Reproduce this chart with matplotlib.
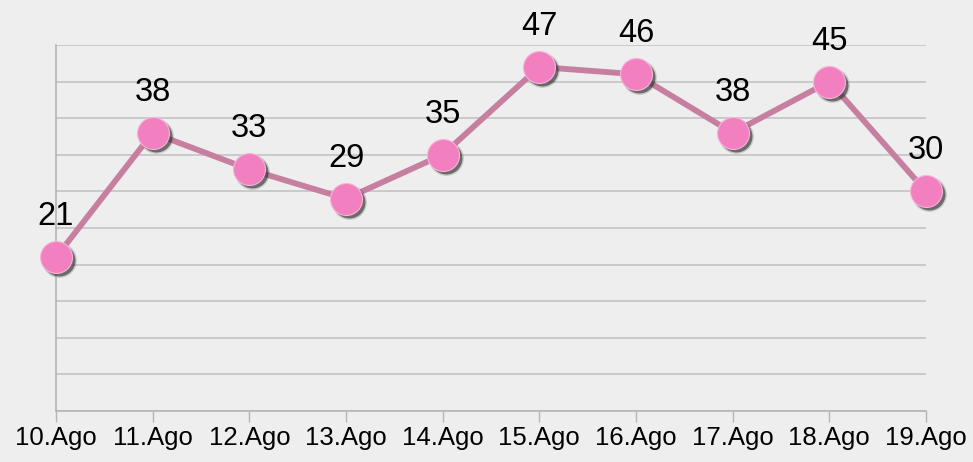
import matplotlib
matplotlib.use("Agg")
import matplotlib.pyplot as plt
import matplotlib.transforms as mtransforms

plt.rcParams['font.family'] = ['Liberation Sans', 'DejaVu Sans']

days = ["10.Ago", "11.Ago", "12.Ago", "13.Ago", "14.Ago",
        "15.Ago", "16.Ago", "17.Ago", "18.Ago", "19.Ago"]
values = [21, 38, 33, 29, 35, 47, 46, 38, 45, 30]

bg = "#eeeeee"
fig = plt.figure(figsize=(9.73, 4.62), dpi=100, facecolor=bg)
ax = fig.add_axes([56 / 973, 1 - 411 / 462, 870 / 973, 366 / 462], facecolor=bg)

x = list(range(len(days)))

# grid
ax.set_ylim(0, 50)
ax.set_xlim(0, len(days) - 1)
ax.set_yticks(range(0, 51, 5))
ax.yaxis.grid(True, color="#c3c3c3", linewidth=1.2)
ax.set_axisbelow(True)
ax.tick_params(axis="y", length=0, labelleft=False)

ax.plot(x, values, color="#c67f9f", linewidth=4.2, zorder=3, solid_capstyle="round")

# soft marker shadow (two layers)
shadow = mtransforms.offset_copy(ax.transData, fig=fig, x=3, y=-3, units="dots")
ax.plot(x, values, linestyle="none", marker="o", markersize=25,
        color="#5a5a5a", alpha=0.25, markeredgewidth=0, transform=shadow,
        zorder=4, clip_on=False)
ax.plot(x, values, linestyle="none", marker="o", markersize=23,
        color="#2e2e2e", alpha=0.6, markeredgewidth=0, transform=shadow,
        zorder=4, clip_on=False)
ax.plot(x, values, linestyle="none", marker="o", markersize=23,
        markerfacecolor="#f27fbf", markeredgecolor="#f6b5d8", markeredgewidth=0.8,
        zorder=5, clip_on=False)

for xi, v in zip(x, values):
    ax.annotate(str(v), (xi, v), xytext=(0, 23), textcoords="offset points",
                ha="center", va="baseline", fontsize=23.5, color="black",
                zorder=6, annotation_clip=False)

ax.set_xticks(x)
ax.set_xticklabels(days, fontsize=18.5)
ax.tick_params(axis="x", length=8, width=1, color="#b5b5b5", pad=3)

for side in ["top", "right"]:
    ax.spines[side].set_visible(False)
for side in ["left", "bottom"]:
    ax.spines[side].set_color("#b5b5b5")
    ax.spines[side].set_linewidth(1.2)

fig.savefig("out.png", dpi=100, facecolor=bg)
